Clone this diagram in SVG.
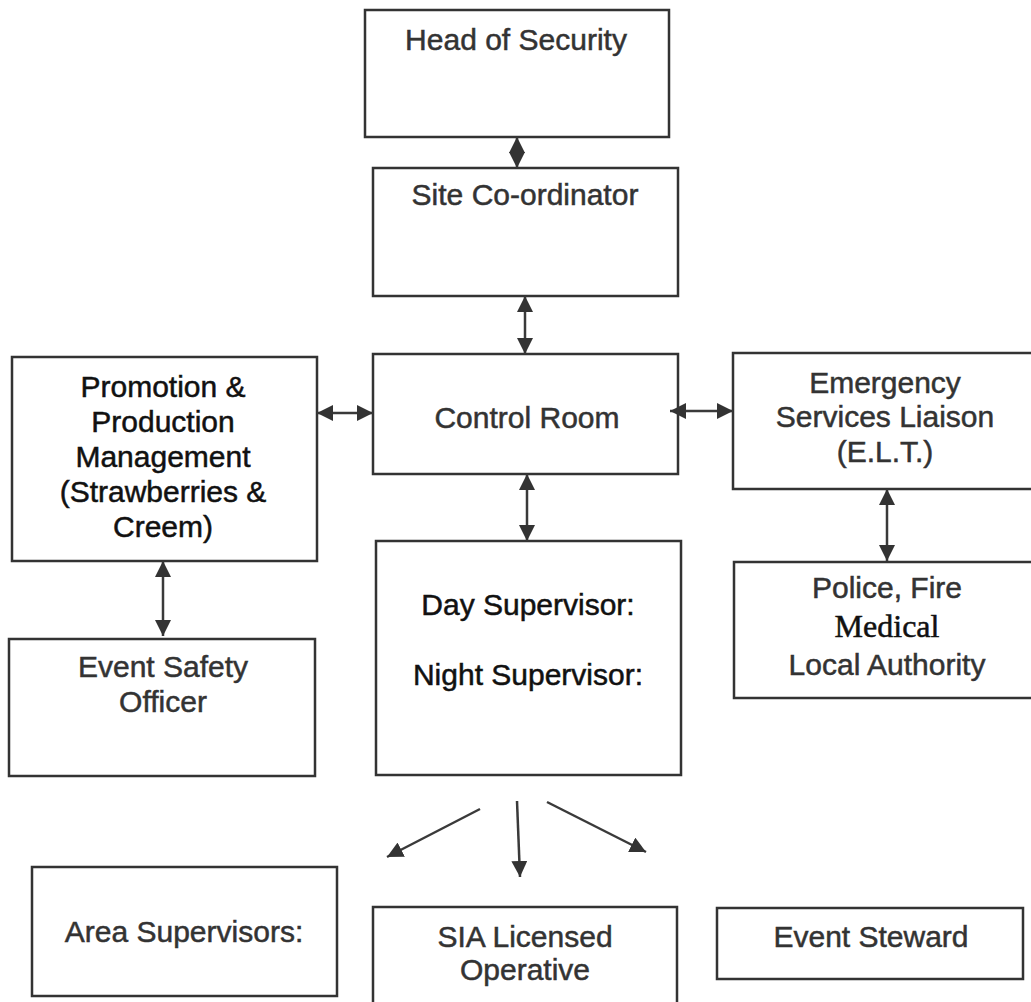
<svg xmlns="http://www.w3.org/2000/svg" width="1031" height="1002" viewBox="0 0 1031 1002">
<style>
.box{fill:#fff;stroke:#333;stroke-width:2.5}
.t{font-family:"Liberation Sans",Arial,sans-serif;font-size:30px;fill:#333;stroke:#333;stroke-width:0.5;text-anchor:middle}
.k{fill:#111;stroke:#111}
.c{stroke:#3a3a3a;stroke-width:2.5;fill:none}
</style>
<defs>
<marker id="ah" viewBox="0 0 10 10" refX="10" refY="5" markerWidth="16" markerHeight="16" markerUnits="userSpaceOnUse" orient="auto-start-reverse">
<path d="M0,0 L10,5 L0,10 z" fill="#333"/>
</marker>
</defs>
<rect width="1031" height="1002" fill="#fff"/>
<g id="head"><rect class="box" x="365" y="10" width="304" height="127"/><text class="t" x="516" y="50">Head of Security</text></g>
<g id="site"><rect class="box" x="373" y="168" width="305" height="128"/><text class="t" x="525" y="205">Site Co-ordinator</text></g>
<g id="control"><rect class="box" x="373" y="354" width="305" height="120"/><text class="t" x="527" y="428">Control Room</text></g>
<g id="promotion"><rect class="box" x="12" y="357" width="305" height="204"/>
<text class="t k" x="163" y="397">Promotion &amp;</text>
<text class="t k" x="163" y="432">Production</text>
<text class="t k" x="163" y="467">Management</text>
<text class="t k" x="163" y="502">(Strawberries &amp;</text>
<text class="t k" x="163" y="537">Creem)</text></g>
<g id="safety"><rect class="box" x="9" y="639" width="306" height="137"/>
<text class="t" x="163" y="677">Event Safety</text>
<text class="t" x="163" y="712">Officer</text></g>
<g id="supervisors"><rect class="box" x="376" y="541" width="305" height="234"/>
<text class="t k" x="528" y="615">Day Supervisor:</text>
<text class="t k" x="528" y="685">Night Supervisor:</text></g>
<g id="emergency"><rect class="box" x="733" y="353" width="310" height="136"/>
<text class="t" x="885" y="393">Emergency</text>
<text class="t" x="885" y="427">Services Liaison</text>
<text class="t" x="885" y="462">(E.L.T.)</text></g>
<g id="police"><rect class="box" x="734" y="562" width="310" height="136"/>
<text class="t" x="887" y="598">Police, Fire</text>
<text class="t k" x="887" y="637" style="font-family:'Liberation Serif','Times New Roman',serif;font-size:32px">Medical</text>
<text class="t" x="887" y="675">Local Authority</text></g>
<g id="area"><rect class="box" x="32" y="867" width="305" height="129"/><text class="t" x="184" y="942">Area Supervisors:</text></g>
<g id="sia"><rect class="box" x="373" y="907" width="304" height="110"/>
<text class="t" x="525" y="947">SIA Licensed</text>
<text class="t" x="525" y="980">Operative</text></g>
<g id="steward"><rect class="box" x="717" y="908" width="306" height="71"/><text class="t" x="871" y="947">Event Steward</text></g>
<g id="connectors">
<line class="c" x1="517" y1="137" x2="517" y2="168" marker-start="url(#ah)" marker-end="url(#ah)"/>
<line class="c" x1="525" y1="296" x2="525" y2="354" marker-start="url(#ah)" marker-end="url(#ah)"/>
<line class="c" x1="317" y1="413" x2="373" y2="413" marker-start="url(#ah)" marker-end="url(#ah)"/>
<line class="c" x1="670" y1="411" x2="733" y2="411" marker-start="url(#ah)" marker-end="url(#ah)"/>
<line class="c" x1="527" y1="474" x2="527" y2="541" marker-start="url(#ah)" marker-end="url(#ah)"/>
<line class="c" x1="163" y1="561" x2="163" y2="636" marker-start="url(#ah)" marker-end="url(#ah)"/>
<line class="c" x1="887" y1="489" x2="887" y2="561" marker-start="url(#ah)" marker-end="url(#ah)"/>
<line class="c" x1="480" y1="809" x2="387" y2="857" marker-end="url(#ah)"/>
<line class="c" x1="517" y1="801" x2="520" y2="877" marker-end="url(#ah)"/>
<line class="c" x1="547" y1="802" x2="646" y2="852" marker-end="url(#ah)"/>
</g>
</svg>
